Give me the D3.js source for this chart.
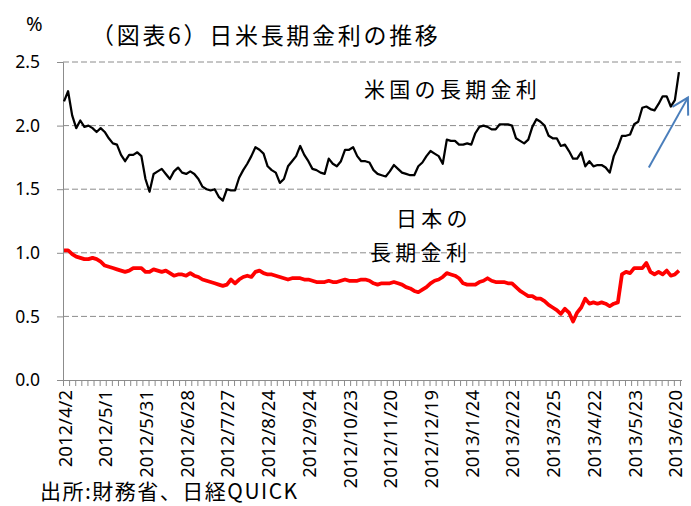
<!DOCTYPE html>
<html>
<head>
<meta charset="utf-8">
<script src="https://cdn.jsdelivr.net/npm/d3@7"></script>
<style>
  body { margin: 0; background: #fff; }
  svg { display: block; }
</style>
</head>
<body>
<svg id="chart"></svg>
<script>
// category labels, one every 20 business days
const dateLabels = ['2012/4/2', '2012/5/1', '2012/5/31', '2012/6/28', '2012/7/27', '2012/8/24',
  '2012/9/24', '2012/10/23', '2012/11/20', '2012/12/19', '2013/1/24', '2013/2/22',
  '2013/3/25', '2013/4/22', '2013/5/23', '2013/6/20'];
const labelStep = 20;
const categoryCount = 304;
const sampleStep = 2;

const yTicks = [0, 0.5, 1.0, 1.5, 2.0, 2.5];

// US 10y yield (%)
const usYield = [
  2.19, 2.27, 2.08, 1.98, 2.04, 1.99, 2.00, 1.98, 1.95, 1.98, 1.95, 1.90, 1.86, 1.85, 1.77, 1.72, 1.77, 1.77, 1.79, 1.76,
  1.58, 1.48, 1.62, 1.64, 1.66, 1.62, 1.58, 1.64, 1.67, 1.63, 1.62, 1.64, 1.62, 1.58, 1.52, 1.50, 1.49, 1.50, 1.44, 1.41,
  1.50, 1.49, 1.49, 1.59, 1.65, 1.70, 1.76, 1.83, 1.81, 1.78, 1.68, 1.65, 1.63, 1.55, 1.58, 1.68, 1.72, 1.76, 1.84, 1.77,
  1.72, 1.66, 1.65, 1.63, 1.62, 1.74, 1.70, 1.68, 1.72, 1.81, 1.81, 1.83, 1.76, 1.72, 1.72, 1.71, 1.65, 1.62, 1.61, 1.60,
  1.64, 1.69, 1.66, 1.63, 1.62, 1.61, 1.61, 1.68, 1.71, 1.76, 1.80, 1.78, 1.76, 1.70, 1.89, 1.88, 1.88, 1.85, 1.85, 1.86,
  1.85, 1.94, 1.99, 2.00, 1.99, 1.97, 1.97, 2.01, 2.01, 2.01, 2.00, 1.90, 1.88, 1.86, 1.89, 1.99, 2.05, 2.03, 2.00, 1.92,
  1.90, 1.90, 1.84, 1.85, 1.80, 1.74, 1.74, 1.79, 1.68, 1.72, 1.68, 1.69, 1.69, 1.67, 1.63, 1.76, 1.83, 1.92, 1.92, 1.93,
  2.01, 2.03, 2.14, 2.15, 2.13, 2.12, 2.17, 2.23, 2.23, 2.15, 2.20, 2.42
];

// Japan 10y JGB yield (%)
const jpYield = [
  1.02, 1.02, 0.99, 0.97, 0.96, 0.95, 0.95, 0.96, 0.95, 0.93, 0.90, 0.89, 0.88, 0.87, 0.86, 0.85, 0.86, 0.88, 0.88, 0.88,
  0.85, 0.85, 0.87, 0.86, 0.85, 0.86, 0.84, 0.82, 0.83, 0.83, 0.82, 0.84, 0.82, 0.81, 0.79, 0.78, 0.77, 0.76, 0.75, 0.74,
  0.75, 0.79, 0.76, 0.79, 0.81, 0.82, 0.81, 0.85, 0.86, 0.84, 0.83, 0.83, 0.82, 0.81, 0.80, 0.79, 0.80, 0.80, 0.80, 0.79,
  0.79, 0.78, 0.77, 0.77, 0.77, 0.78, 0.77, 0.77, 0.78, 0.79, 0.78, 0.78, 0.78, 0.79, 0.79, 0.78, 0.76, 0.75, 0.76, 0.76,
  0.76, 0.77, 0.76, 0.75, 0.73, 0.72, 0.70, 0.69, 0.71, 0.73, 0.76, 0.78, 0.79, 0.81, 0.84, 0.83, 0.82, 0.80, 0.76, 0.75,
  0.75, 0.75, 0.77, 0.78, 0.80, 0.78, 0.77, 0.77, 0.77, 0.76, 0.76, 0.73, 0.70, 0.68, 0.66, 0.66, 0.64, 0.64, 0.62, 0.59,
  0.57, 0.55, 0.52, 0.56, 0.53, 0.46, 0.53, 0.57, 0.64, 0.60, 0.61, 0.60, 0.61, 0.60, 0.58, 0.60, 0.61, 0.83, 0.85, 0.84,
  0.88, 0.88, 0.88, 0.92, 0.85, 0.83, 0.85, 0.83, 0.86, 0.82, 0.83, 0.86
];

// arrow annotation, in (category, %) coordinates
const arrowFrom = [287.7, 1.67];
const arrowTo = [306.9, 2.22];

const width = 691, height = 506;
const margin = { top: 62, right: 9, bottom: 126, left: 63 };
const jpFont = '"Noto Sans CJK JP", sans-serif';
const numFont = '"Noto Sans", sans-serif';
const axisGray = '#8c8c8c';

const svg = d3.select('#chart').attr('width', width).attr('height', height);

const x = d3.scaleLinear().domain([0, categoryCount]).range([margin.left, width - margin.right]);
const y = d3.scaleLinear().domain([0, 2.5]).range([height - margin.bottom, margin.top]);

// gridlines
svg.append('g')
  .selectAll('line')
  .data(yTicks.filter(d => d > 0))
  .enter()
  .append('line')
  .attr('x1', x(0))
  .attr('x2', x(categoryCount))
  .attr('y1', d => y(d))
  .attr('y2', d => y(d))
  .attr('stroke', '#8c8c8c')
  .attr('stroke-dasharray', '6,3');

// y axis
const yAxis = svg.append('g')
  .attr('transform', `translate(${x(0)},0)`)
  .call(d3.axisLeft(y).tickValues(yTicks).tickFormat(d3.format('.1f')).tickSize(6).tickPadding(17));
yAxis.select('.domain').attr('stroke', axisGray);
yAxis.selectAll('.tick line').attr('stroke', axisGray);
yAxis.selectAll('.tick text')
  .attr('font-family', numFont)
  .attr('font-size', 17.5)
  .attr('fill', '#000');

// x axis: line, minor ticks every 3 categories
const xTicks = d3.range(0, categoryCount + 1, 3);
const xAxis = svg.append('g')
  .attr('transform', `translate(0,${y(0)})`)
  .call(d3.axisBottom(x).tickValues(xTicks).tickFormat('').tickSize(6).tickSizeOuter(0));
xAxis.select('.domain').attr('stroke', axisGray).attr('d', `M${x(0) - 6},0.5H${x(categoryCount)}`);
xAxis.selectAll('.tick line').attr('stroke', axisGray);

// date labels
svg.append('g')
  .selectAll('text')
  .data(dateLabels)
  .enter()
  .append('text')
  .attr('transform', (d, i) => `translate(${x(i * labelStep + 0.5) + 1},${y(0) + 10}) rotate(-90)`)
  .attr('text-anchor', 'end')
  .attr('dy', '0.35em')
  .attr('font-family', numFont)
  .attr('font-size', 18.5)
  .text(d => d);

// lines
const line = d3.line()
  .x((d, i) => x(i * sampleStep + 0.5))
  .y(d => y(d));

svg.append('path')
  .datum(jpYield)
  .attr('fill', 'none')
  .attr('stroke', '#ff0000')
  .attr('stroke-width', 3.75)
  .attr('stroke-linejoin', 'round')
  .attr('d', line);

svg.append('path')
  .datum(usYield)
  .attr('fill', 'none')
  .attr('stroke', '#000')
  .attr('stroke-width', 2.25)
  .attr('stroke-linejoin', 'round')
  .attr('d', line);

// arrow
const ax0 = x(arrowFrom[0]), ay0 = y(arrowFrom[1]);
const ax1 = x(arrowTo[0]), ay1 = y(arrowTo[1]);
const ang = Math.atan2(ay0 - ay1, ax0 - ax1);
const barb = 18, spread = Math.PI / 6;
const arrow = svg.append('g').attr('stroke', '#4a7ebb').attr('stroke-width', 2).attr('fill', 'none');
arrow.append('line').attr('x1', ax0).attr('y1', ay0).attr('x2', ax1).attr('y2', ay1);
arrow.append('path')
  .attr('stroke-linejoin', 'miter')
  .attr('d', `M${ax1 + barb * Math.cos(ang + spread)},${ay1 + barb * Math.sin(ang + spread)}` +
    `L${ax1},${ay1}L${ax1 + barb * Math.cos(ang - spread)},${ay1 + barb * Math.sin(ang - spread)}`);

// texts
svg.append('text')
  .attr('x', 26).attr('y', 31)
  .attr('font-family', numFont).attr('font-size', 20)
  .text('%');

svg.append('text')
  .attr('x', 91).attr('y', 44)
  .attr('font-family', jpFont).attr('font-size', 23)
  .attr('letter-spacing', 2.7)
  .text('（図表6）日米長期金利の推移');

svg.append('text')
  .attr('x', 364).attr('y', 97)
  .attr('font-family', jpFont).attr('font-size', 21)
  .attr('letter-spacing', 4.3)
  .text('米国の長期金利');

svg.append('text')
  .attr('x', 396).attr('y', 226)
  .attr('font-family', jpFont).attr('font-size', 21)
  .attr('letter-spacing', 4.3)
  .text('日本の');

svg.append('text')
  .attr('x', 370).attr('y', 260)
  .attr('font-family', jpFont).attr('font-size', 21)
  .attr('letter-spacing', 4.3)
  .text('長期金利');

svg.append('text')
  .attr('x', 40).attr('y', 499)
  .attr('font-family', jpFont).attr('font-size', 21)
  .attr('letter-spacing', 1.5)
  .text('出所:財務省、日経QUICK');
</script>
</body>
</html>
